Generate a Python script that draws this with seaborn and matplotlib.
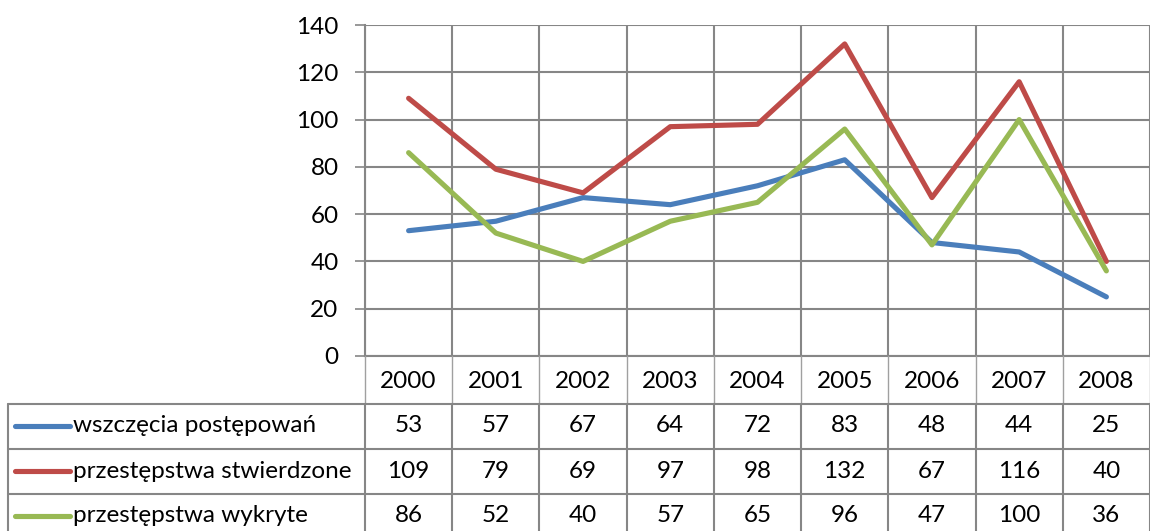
import numpy as np
import pandas as pd
import matplotlib
matplotlib.use("Agg")
import matplotlib.pyplot as plt
import seaborn as sns
from matplotlib.transforms import blended_transform_factory

years = ["2000", "2001", "2002", "2003", "2004", "2005", "2006", "2007", "2008"]
series_names = ["wszczęcia postępowań", "przestępstwa stwierdzone", "przestępstwa wykryte"]
wszczecia = [53, 57, 67, 64, 72, 83, 48, 44, 25]
stwierdzone = [109, 79, 69, 97, 98, 132, 67, 116, 40]
wykryte = [86, 52, 40, 57, 65, 96, 47, 100, 36]
series_values = [wszczecia, stwierdzone, wykryte]
colors = ["#4A7EBB", "#BE4B48", "#98B954"]
y_ticks = [0, 20, 40, 60, 80, 100, 120, 140]

sns.set_theme(style="white")
plt.rcParams['font.family'] = ['Lato', 'DejaVu Sans']

W, H = 1150, 531
fig = plt.figure(figsize=(W / 100, H / 100), dpi=100)
fig.patch.set_facecolor("white")

# pixel layout
px_left, px_right = 365, 1150
px_top, px_zero = 25, 356
ax = fig.add_axes([px_left / W, (H - px_zero) / H, (px_right - px_left) / W, (px_zero - px_top) / H])

rows = []
for name, vals in zip(series_names, series_values):
    for i, (yr, v) in enumerate(zip(years, vals)):
        rows.append({"pos": i, "year": yr, "series": name, "value": v})
df = pd.DataFrame(rows)

sns.lineplot(data=df, x="pos", y="value", hue="series", hue_order=series_names,
             palette=colors, linewidth=3.7, legend=False, ax=ax, zorder=3)

fs = 17.5
n = len(years)
ax.set_xlim(-0.5, n - 0.5)
ax.set_ylim(0, 140)
ax.set_yticks(y_ticks)
ax.set_xticks(np.arange(-0.5, n, 1.0))
ax.set_xticklabels([])
ax.tick_params(axis="x", length=0)
ax.tick_params(axis="y", length=7, width=1.2, color="#868686", direction="out",
               labelsize=fs, pad=12, labelcolor="black", left=True)
ax.grid(True, color="#868686", linewidth=1.5)
for s in ["top", "right"]:
    ax.spines[s].set_visible(False)
for s in ["left", "bottom"]:
    ax.spines[s].set_color("#868686")
    ax.spines[s].set_linewidth(1.5)
ax.set_xlabel("")
ax.set_ylabel("")

# table axes: x in same data units, y in image pixel rows
tax = fig.add_axes([px_left / W, 0, (px_right - px_left) / W, (H - px_zero) / H])
tax.set_xlim(-0.5, n - 0.5)
tax.set_ylim(H, px_zero)
tax.axis("off")

header_bottom = 404
row_h = 45
row_tops = [header_bottom + k * row_h for k in range(len(series_names))]
gc = "#868686"

# vertical lines
for b in np.arange(-0.5, n, 1.0):
    tax.plot([b, b], [px_zero, header_bottom], color="#A0A0A0", lw=1.0, clip_on=False)
    tax.plot([b, b], [header_bottom, H], color=gc, lw=1.5, clip_on=False)

trans = blended_transform_factory(fig.transFigure, tax.transData)
left_px = 8
# horizontal lines across the full table
for yt in row_tops:
    tax.plot([left_px / W, 1.0], [yt, yt], color=gc, lw=1.5, transform=trans, clip_on=False)
tax.plot([left_px / W, left_px / W], [header_bottom, H], color=gc, lw=1.5, transform=trans, clip_on=False)

for i, yr in enumerate(years):
    tax.text(i, (px_zero + header_bottom) / 2 + 1, yr, ha="center", va="center", fontsize=fs, color="black")

for k, (name, vals, c) in enumerate(zip(series_names, series_values, colors)):
    yc = row_tops[k] + row_h / 2 - 0.5
    tax.plot([15 / W, 70 / W], [yc, yc], color=c, lw=3.7, transform=trans, clip_on=False,
             solid_capstyle="round")
    tax.text(73 / W, yc, name, transform=trans, ha="left", va="center", fontsize=fs, color="black")
    for i, v in enumerate(vals):
        tax.text(i, yc, str(v), ha="center", va="center", fontsize=fs, color="black")

fig.savefig("out.png", dpi=100, facecolor="white")
